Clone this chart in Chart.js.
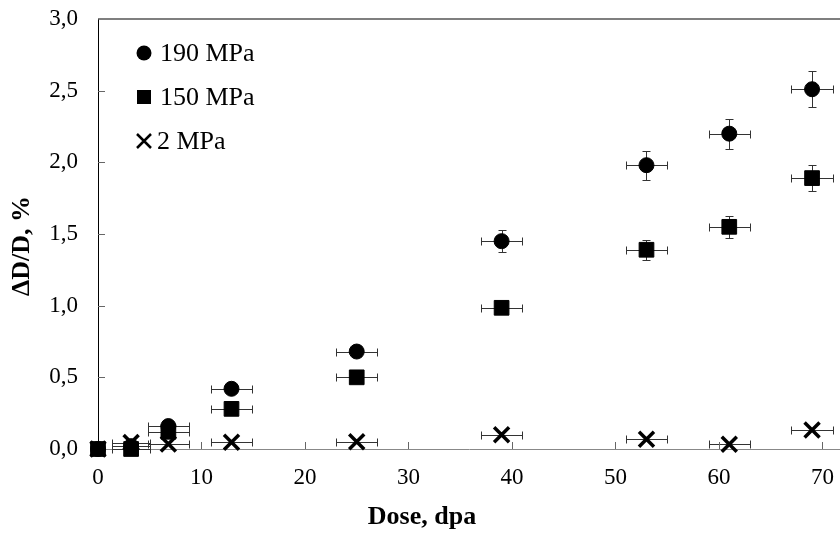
<!DOCTYPE html>
<html>
<head>
<meta charset="utf-8">
<script src="https://cdn.jsdelivr.net/npm/chart.js@4.4.1/dist/chart.umd.min.js"></script>
<style>
    body { margin: 0; background: #fff; }
    canvas { display: block; }
</style>
</head>
<body>
<canvas id="chart" width="840" height="534"></canvas>
<script>
// dose, dpa (shared by all three series) and its horizontal error
const dose = [0, 3.2, 6.8, 12.9, 25, 39, 53, 61, 69];
const doseErr = [0, 1.8, 2, 2, 2, 2, 2, 2, 2];

// swelling dD/D, %
const mpa190 = [0, 0.02, 0.16, 0.42, 0.68, 1.45, 1.98, 2.2, 2.51];
const mpa190Err = [0, 0, 0.02, 0.02, 0.03, 0.075, 0.1, 0.105, 0.125];
const mpa150 = [0, 0, 0.12, 0.28, 0.5, 0.985, 1.39, 1.55, 1.89];
const mpa150Err = [0, 0, 0.01, 0.02, 0.02, 0.03, 0.07, 0.075, 0.09];
const mpa2 = [0, 0.045, 0.035, 0.047, 0.05, 0.1, 0.068, 0.033, 0.133];
const mpa2Err = [0, 0, 0, 0, 0, 0, 0, 0, 0];

const seriesLabels = ['190 MPa', '150 MPa', '2 MPa'];
const xTicks = [0, 10, 20, 30, 40, 50, 60, 70];
const yTicks = [0, 0.5, 1.0, 1.5, 2.0, 2.5, 3.0];

const serif = '"Liberation Serif", "Times New Roman", serif';

const toPoints = (ys) => ys.map((v, i) => ({ x: dose[i], y: v }));

const errorBars = {
    id: 'errorBars',
    beforeDatasetsDraw(chart) {
        const { ctx, scales: { x, y } } = chart;
        const cap = 4;
        ctx.save();
        ctx.strokeStyle = '#333';
        ctx.lineWidth = 1;
        chart.data.datasets.forEach((ds) => {
            ds.data.forEach((p, j) => {
                const px = Math.round(x.getPixelForValue(p.x)) + 0.5;
                const py = Math.round(y.getPixelForValue(p.y)) + 0.5;
                const xe = ds.xErr[j];
                const ye = ds.yErr[j];
                ctx.beginPath();
                if (xe) {
                    const l = Math.round(x.getPixelForValue(p.x - xe)) + 0.5;
                    const r = Math.round(x.getPixelForValue(p.x + xe)) + 0.5;
                    ctx.moveTo(l, py); ctx.lineTo(r, py);
                    ctx.moveTo(l, py - cap); ctx.lineTo(l, py + cap);
                    ctx.moveTo(r, py - cap); ctx.lineTo(r, py + cap);
                }
                if (ye) {
                    const t = Math.round(y.getPixelForValue(p.y + ye)) + 0.5;
                    const b = Math.round(y.getPixelForValue(p.y - ye)) + 0.5;
                    ctx.moveTo(px, t); ctx.lineTo(px, b);
                    ctx.moveTo(px - cap, t); ctx.lineTo(px + cap, t);
                    ctx.moveTo(px - cap, b); ctx.lineTo(px + cap, b);
                }
                ctx.stroke();
            });
        });
        ctx.restore();
    }
};

// inward tick marks and the top frame line
const frame = {
    id: 'frame',
    beforeDatasetsDraw(chart) {
        const { ctx, chartArea: a, scales: { x, y } } = chart;
        ctx.save();
        ctx.strokeStyle = '#666';
        ctx.lineWidth = 1;
        ctx.beginPath();
        yTicks.slice(1, -1).forEach((v) => {
            const py = Math.round(y.getPixelForValue(v)) + 0.5;
            ctx.moveTo(a.left, py); ctx.lineTo(a.left + 7, py);
        });
        xTicks.slice(1).forEach((v) => {
            const px = Math.round(x.getPixelForValue(v)) + 0.5;
            ctx.moveTo(px, a.bottom); ctx.lineTo(px, a.bottom - 7);
        });
        ctx.stroke();
        ctx.strokeStyle = '#555';
        ctx.lineWidth = 1.5;
        ctx.beginPath();
        ctx.moveTo(a.left, a.top); ctx.lineTo(a.right, a.top);
        ctx.stroke();
        ctx.restore();
    }
};

const titlesAndLegend = {
    id: 'titlesAndLegend',
    afterDraw(chart) {
        const { ctx } = chart;
        ctx.save();
        ctx.fillStyle = '#000';
        ctx.strokeStyle = '#000';

        ctx.font = 'bold 26px ' + serif;
        ctx.textAlign = 'center';
        ctx.textBaseline = 'middle';
        ctx.fillText('Dose, dpa', 422, 517);
        ctx.save();
        ctx.translate(22, 246);
        ctx.rotate(-Math.PI / 2);
        ctx.fillText('ΔD/D, %', 0, 0);
        ctx.restore();

        const mx = 144;
        const rows = [53, 97, 141];
        ctx.beginPath();
        ctx.arc(mx, rows[0], 7.5, 0, Math.PI * 2);
        ctx.fill();
        ctx.fillRect(mx - 7, rows[1] - 7, 14, 14);
        ctx.lineWidth = 2.5;
        ctx.beginPath();
        ctx.moveTo(mx - 7, rows[2] - 7); ctx.lineTo(mx + 7, rows[2] + 7);
        ctx.moveTo(mx + 7, rows[2] - 7); ctx.lineTo(mx - 7, rows[2] + 7);
        ctx.stroke();

        ctx.font = '26px ' + serif;
        ctx.textAlign = 'left';
        seriesLabels.forEach((label, i) => {
            ctx.fillText(label, i === 2 ? 157 : 160, rows[i] + 1);
        });
        ctx.restore();
    }
};

new Chart(document.getElementById('chart'), {
    type: 'scatter',
    data: {
        datasets: [
            {
                label: seriesLabels[0],
                data: toPoints(mpa190),
                xErr: doseErr,
                yErr: mpa190Err,
                pointStyle: 'circle',
                pointRadius: 7.5,
                backgroundColor: '#000',
                borderColor: '#000',
                borderWidth: 1,
            },
            {
                label: seriesLabels[1],
                data: toPoints(mpa150),
                xErr: doseErr,
                yErr: mpa150Err,
                pointStyle: 'rect',
                pointRadius: 10.4,
                backgroundColor: '#000',
                borderColor: '#000',
                borderWidth: 1,
            },
            {
                label: seriesLabels[2],
                data: toPoints(mpa2),
                xErr: doseErr,
                yErr: mpa2Err,
                pointStyle: 'crossRot',
                pointRadius: 10.6,
                backgroundColor: '#000',
                borderColor: '#000',
                borderWidth: 3.5,
            },
        ],
    },
    options: {
        responsive: false,
        animation: false,
        clip: false,
        layout: { autoPadding: false, padding: { top: 19, right: 0, bottom: 0, left: 0 } },
        plugins: {
            legend: { display: false },
            tooltip: { enabled: false },
        },
        scales: {
            x: {
                type: 'linear',
                min: 0,
                max: 71.7,
                afterBuildTicks: (scale) => { scale.ticks = xTicks.map((v) => ({ value: v })); },
                afterFit: (scale) => { scale.height = 85; scale.paddingLeft = 0; scale.paddingRight = 0; },
                grid: { display: false, drawTicks: false },
                border: { display: true, color: '#888', width: 1 },
                ticks: {
                    color: '#000',
                    padding: 15,
                    maxRotation: 0,
                    font: { family: serif, size: 23 },
                },
            },
            y: {
                type: 'linear',
                min: 0,
                max: 3,
                afterBuildTicks: (scale) => { scale.ticks = yTicks.map((v) => ({ value: v })); },
                afterFit: (scale) => { scale.width = 98; scale.paddingTop = 0; scale.paddingBottom = 0; },
                grid: { display: false, drawTicks: false },
                border: { display: true, color: '#000', width: 1 },
                ticks: {
                    color: '#000',
                    padding: 20,
                    font: { family: serif, size: 23 },
                    callback: (v) => v.toFixed(1).replace('.', ','),
                },
            },
        },
    },
    plugins: [errorBars, frame, titlesAndLegend],
});
</script>
</body>
</html>
